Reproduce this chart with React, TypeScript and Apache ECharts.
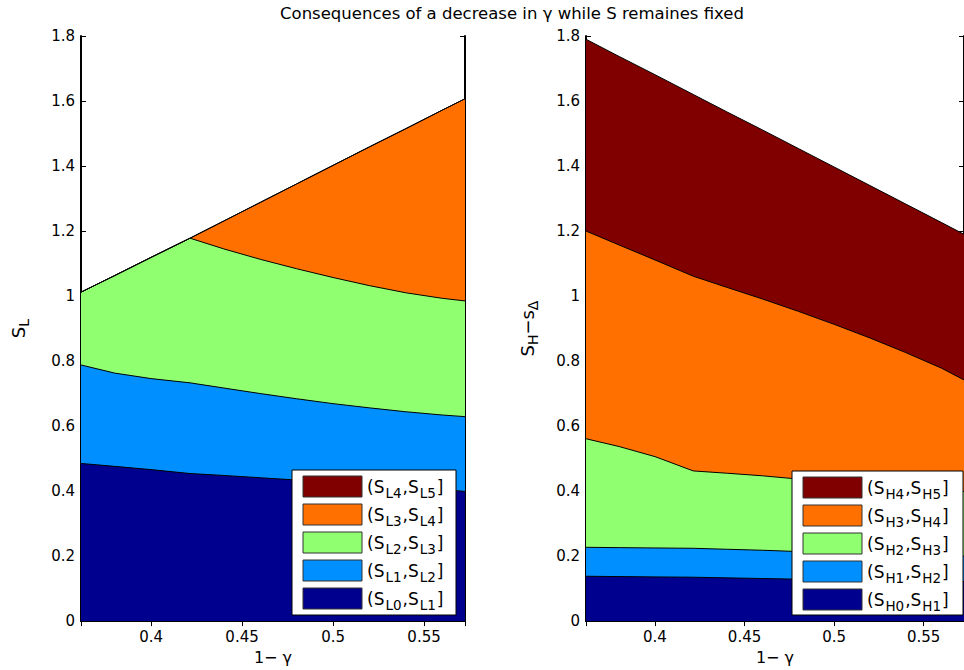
import React, { useEffect, useRef } from 'react';
import * as echarts from 'echarts';

// x values (1 - gamma)
const gammaX = [0.3615, 0.38, 0.40, 0.4214, 0.44, 0.46, 0.48, 0.50, 0.52, 0.54, 0.56, 0.5725];

// Left panel: upper boundaries S_L1..S_L5
const sL1 = [0.485, 0.476, 0.466, 0.454, 0.448, 0.441, 0.434, 0.427, 0.420, 0.412, 0.405, 0.399];
const sL2 = [0.788, 0.763, 0.746, 0.733, 0.717, 0.700, 0.684, 0.669, 0.656, 0.644, 0.634, 0.629];
const sL3 = [1.012, 1.063, 1.119, 1.178, 1.145, 1.113, 1.084, 1.057, 1.032, 1.010, 0.993, 0.985];
const sL4 = [1.012, 1.063, 1.119, 1.178, 1.231, 1.288, 1.345, 1.402, 1.459, 1.515, 1.572, 1.607];
const sL5 = [1.012, 1.063, 1.119, 1.178, 1.231, 1.288, 1.345, 1.402, 1.459, 1.515, 1.572, 1.607];

// Right panel: upper boundaries S_H1..S_H5 (minus s_delta)
const sH1 = [0.138, 0.137, 0.136, 0.135, 0.133, 0.131, 0.129, 0.128, 0.126, 0.125, 0.123, 0.122];
const sH2 = [0.227, 0.226, 0.225, 0.224, 0.221, 0.218, 0.214, 0.211, 0.208, 0.205, 0.202, 0.200];
const sH3 = [0.561, 0.537, 0.506, 0.462, 0.455, 0.447, 0.437, 0.428, 0.420, 0.412, 0.404, 0.399];
const sH4 = [1.200, 1.157, 1.111, 1.061, 1.027, 0.991, 0.953, 0.913, 0.871, 0.826, 0.778, 0.742];
const sH5 = [1.790, 1.737, 1.681, 1.620, 1.567, 1.511, 1.454, 1.397, 1.340, 1.283, 1.226, 1.190];

// colours, top band first
const bandColors = ['#800000', '#FF7000', '#90FF70', '#008FFF', '#00008F'];
const legendLow = [['L4', 'L5'], ['L3', 'L4'], ['L2', 'L3'], ['L1', 'L2'], ['L0', 'L1']];
const legendHigh = [['H4', 'H5'], ['H3', 'H4'], ['H2', 'H3'], ['H1', 'H2'], ['H0', 'H1']];

const titleText = 'Consequences of a decrease in γ while S remaines fixed';
const xName = '1− γ';

const FONT = '"DejaVu Sans", "Liberation Sans", Arial, sans-serif';
const X_MIN = 0.3615;
const X_MAX = 0.5725;

export default function App() {
  const ref = useRef<HTMLDivElement>(null);

  useEffect(() => {
    if (!ref.current) return;
    const chart = echarts.init(ref.current, undefined, { renderer: 'svg' });

    const panels = [
      { bounds: [sL5, sL4, sL3, sL2, sL1], legend: legendLow, left: 81, yName: 'S{s|L}', yGap: 50, legBox: { x: 292, y: 470, w: 164, h: 145 } },
      { bounds: [sH5, sH4, sH3, sH2, sH1], legend: legendHigh, left: 586, yName: 'S{s|H}−s{s|Δ}', yGap: 46, legBox: { x: 792, y: 471, w: 171, h: 144 } },
    ];

    const grid: any[] = [];
    const xAxis: any[] = [];
    const yAxis: any[] = [];
    const series: any[] = [];
    const graphic: any[] = [];

    const nameRich = { s: { fontSize: 14, fontFamily: FONT, color: '#000', padding: [11, 0, 0, 0] } };

    panels.forEach((p, g) => {
      grid.push({ left: p.left, top: 36, width: 384, height: 587, containLabel: false });
      const baseX = {
        type: 'value', gridIndex: g, min: X_MIN, max: X_MAX,
        splitLine: { show: false },
        axisTick: { show: true, inside: true, length: 5, lineStyle: { color: '#000', width: 1 } },
      };
      xAxis.push({
        ...baseX, position: 'bottom',
        axisLine: { show: true, lineStyle: { color: '#000', width: 2 } },
        axisLabel: { show: true, showMinLabel: false, showMaxLabel: false, color: '#000', fontSize: 15, fontFamily: FONT, margin: 8 },
        name: xName, nameLocation: 'middle', nameGap: 27,
        nameTextStyle: { color: '#000', fontSize: 16, fontFamily: FONT },
      });
      xAxis.push({
        ...baseX, position: 'top',
        axisLine: { show: true, lineStyle: { color: '#000', width: 1 } },
        axisLabel: { show: false },
      });
      const baseY = {
        type: 'value', gridIndex: g, min: 0, max: 1.8, interval: 0.2,
        splitLine: { show: false },
        axisTick: { show: true, inside: true, length: 5, lineStyle: { color: '#000', width: 1 } },
      };
      yAxis.push({
        ...baseY, position: 'left',
        axisLine: { show: true, lineStyle: { color: '#000', width: 2 } },
        axisLabel: { show: true, color: '#000', fontSize: 15, fontFamily: FONT, margin: 6 },
        name: p.yName, nameLocation: 'middle', nameGap: p.yGap, nameRotate: 90,
        nameTextStyle: { color: '#000', fontSize: 18, fontFamily: FONT, rich: nameRich },
      });
      yAxis.push({
        ...baseY, position: 'right',
        axisLine: { show: true, lineStyle: { color: '#000', width: 2 } },
        axisLabel: { show: false },
      });

      p.bounds.forEach((arr, k) => {
        series.push({
          type: 'line', xAxisIndex: g * 2, yAxisIndex: g * 2, z: 2,
          data: gammaX.map((x, i) => [x, arr[i]]),
          symbol: 'none', showSymbol: false, silent: true,
          lineStyle: { width: 0, opacity: 0 },
          areaStyle: { color: bandColors[k], opacity: 1 },
        });
      });
      p.bounds.forEach((arr) => {
        series.push({
          type: 'line', xAxisIndex: g * 2, yAxisIndex: g * 2, z: 3,
          data: gammaX.map((x, i) => [x, arr[i]]),
          symbol: 'none', showSymbol: false, silent: true,
          lineStyle: { width: 1, color: '#000' },
        });
      });

      const b = p.legBox;
      graphic.push({
        type: 'rect', z: 100, x: b.x, y: b.y,
        shape: { x: 0, y: 0, width: b.w, height: b.h },
        style: { fill: '#fff', stroke: '#000', lineWidth: 1 },
      });
      p.legend.forEach((pair, k) => {
        const sy = b.y + 6 + k * 28;
        graphic.push({
          type: 'rect', z: 101, x: b.x + 11, y: sy,
          shape: { x: 0, y: 0, width: 59, height: 21 },
          style: { fill: bandColors[k], stroke: '#333', lineWidth: 1 },
        });
        graphic.push({
          type: 'text', z: 101, x: b.x + 75, y: sy + 10.5,
          style: {
            text: `(S{s|${pair[0]}},S{s|${pair[1]}}]`,
            fontSize: 17, fontFamily: FONT, fill: '#000',
            verticalAlign: 'middle', align: 'left',
            rich: { s: { fontSize: 13.5, fontFamily: FONT, fill: '#000', padding: [12, 1, 0, 1] } },
          },
        });
      });
    });

    graphic.push({
      type: 'text', x: 512, y: 13, z: 100,
      style: { text: titleText, fontSize: 16.5, fontFamily: FONT, fill: '#000', align: 'center', verticalAlign: 'middle' },
    });

    chart.setOption({
      animation: false,
      backgroundColor: '#fff',
      grid, xAxis, yAxis, series, graphic,
    });

    return () => chart.dispose();
  }, []);

  return <div ref={ref} style={{ position: 'fixed', left: 0, top: 0, width: 964, height: 670 }} />;
}
